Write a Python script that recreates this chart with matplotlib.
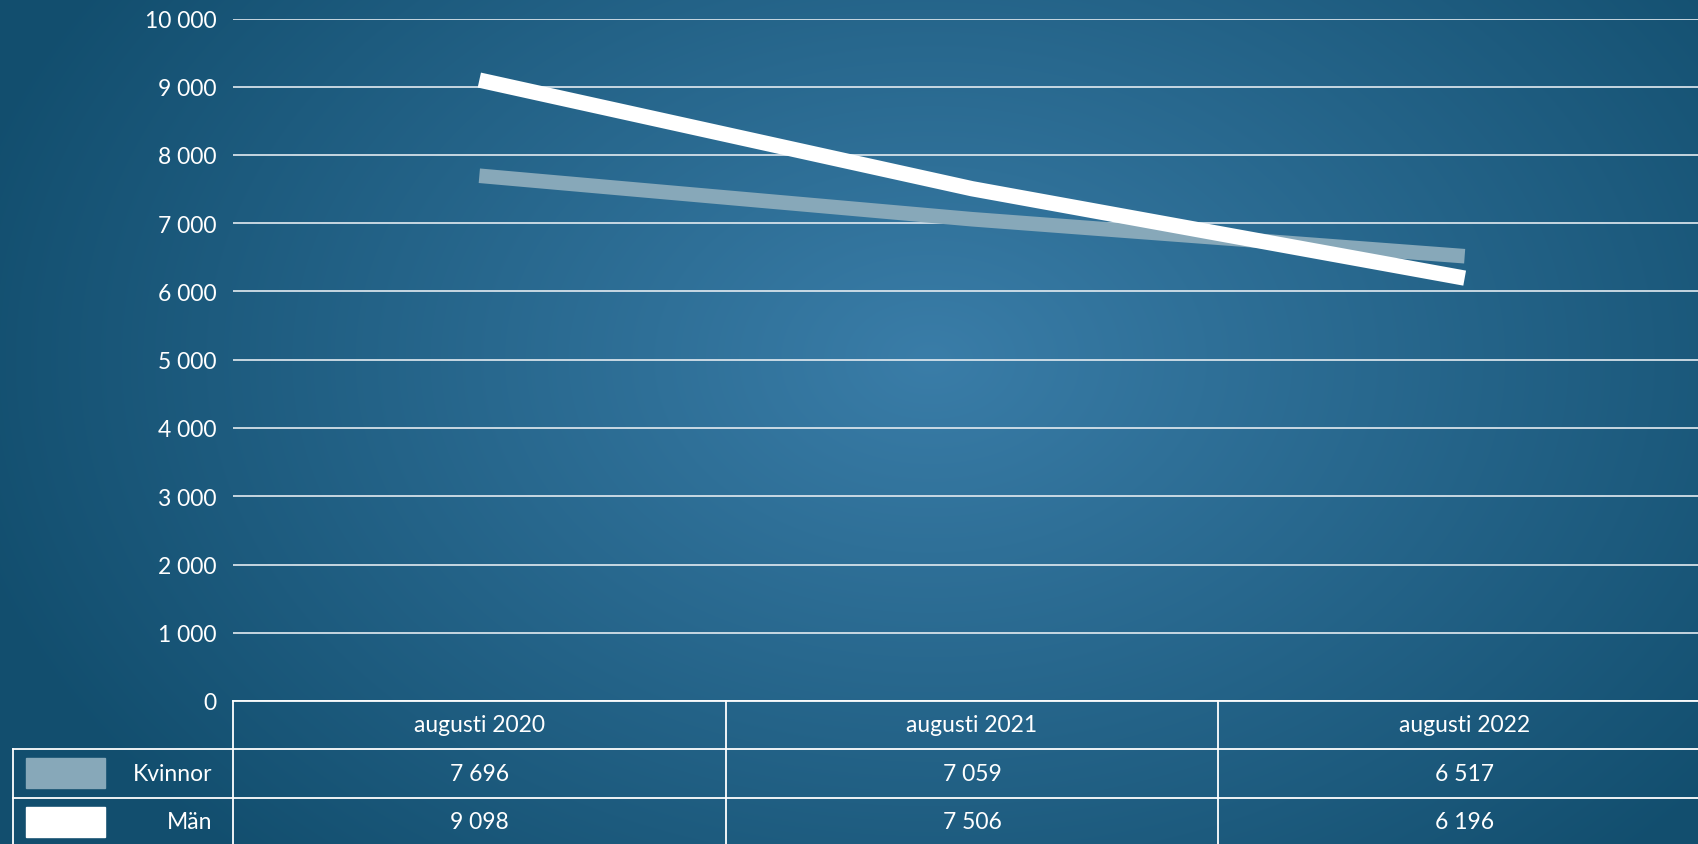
import numpy as np
import matplotlib.pyplot as plt
from matplotlib.patches import Rectangle

plt.rcParams['font.family'] = ['Lato', 'DejaVu Sans']

# data
categories = ['augusti 2020', 'augusti 2021', 'augusti 2022']
kvinnor = [7696, 7059, 6517]
man = [9098, 7506, 6196]
series_names = ['Kvinnor', 'Män']
series_colors = ['#87a8b9', '#ffffff']
yticks = np.arange(0, 10001, 1000)

W, H = 1698, 845
FS = 16.5
fig = plt.figure(figsize=(W / 100, H / 100), dpi=100)

# radial gradient background
yy, xx = np.mgrid[0:H, 0:W]
r = np.sqrt(((xx - 930) / 1000.0) ** 2 + ((yy - 360) / 700.0) ** 2)
r = np.clip(r, 0, 1)
c_in = np.array([58, 125, 168]) / 255.0
c_out = np.array([18, 78, 110]) / 255.0
bg = c_in[None, None, :] * (1 - r[..., None]) + c_out[None, None, :] * r[..., None]
fig.figimage(bg, 0, 0, zorder=-10)

def fmt(v):
    return f'{v:,}'.replace(',', ' ')

# main plot axes (right column runs past the figure edge)
left, right, top, bottom = 233, 1711, 19.5, 702
ax = fig.add_axes([left / W, 1 - bottom / H, (right - left) / W, (bottom - top) / H])
ax.set_facecolor('none')
ax.set_xlim(-0.5, 2.5)
ax.set_ylim(0, 10000)
ax.set_yticks(yticks)
ax.set_yticklabels([fmt(v) for v in yticks], color='white', fontsize=FS)
ax.set_xticks([])
ax.tick_params(axis='y', length=0, pad=12)
for s in ax.spines.values():
    s.set_visible(False)
ax.grid(axis='y', color='#e3ebf1', lw=1.2)
ax.set_axisbelow(True)

x = np.arange(len(categories))
ax.plot(x, kvinnor, color=series_colors[0], lw=10.5, solid_capstyle='butt', zorder=3)
ax.plot(x, man, color=series_colors[1], lw=11, solid_capstyle='butt', zorder=4)

# data table drawn below the axes
tab = fig.add_axes([0, 0, 1, 1])
tab.set_xlim(0, W)
tab.set_ylim(H, 0)
tab.axis('off')
tab.patch.set_alpha(0)

col_w = (right - left) / len(categories)
row_y = [702, 749.5, 799, 846]
lc = 'white'
lw = 1.3
tab.plot([left, W], [row_y[0]] * 2, color=lc, lw=lw)
tab.plot([13, W], [row_y[1]] * 2, color=lc, lw=lw)
tab.plot([13, W], [row_y[2]] * 2, color=lc, lw=lw)
tab.plot([13, 13], [row_y[1], H], color=lc, lw=lw)
for i in range(len(categories)):
    xb = left + i * col_w
    tab.plot([xb, xb], [row_y[0], H], color=lc, lw=lw)
    tab.text(xb + col_w / 2, (row_y[0] + row_y[1]) / 2, categories[i],
             ha='center', va='center', color='white', fontsize=FS)

series = [kvinnor, man]
for j, name in enumerate(series_names):
    yc = (row_y[j + 1] + row_y[j + 2]) / 2
    tab.add_patch(Rectangle((26, yc - 15), 79, 30, color=series_colors[j]))
    tab.text(212, yc, name, ha='right', va='center', color='white', fontsize=FS)
    for i, v in enumerate(series[j]):
        tab.text(left + i * col_w + col_w / 2, yc, fmt(v),
                 ha='center', va='center', color='white', fontsize=FS)

fig.savefig('out.png', dpi=100)
